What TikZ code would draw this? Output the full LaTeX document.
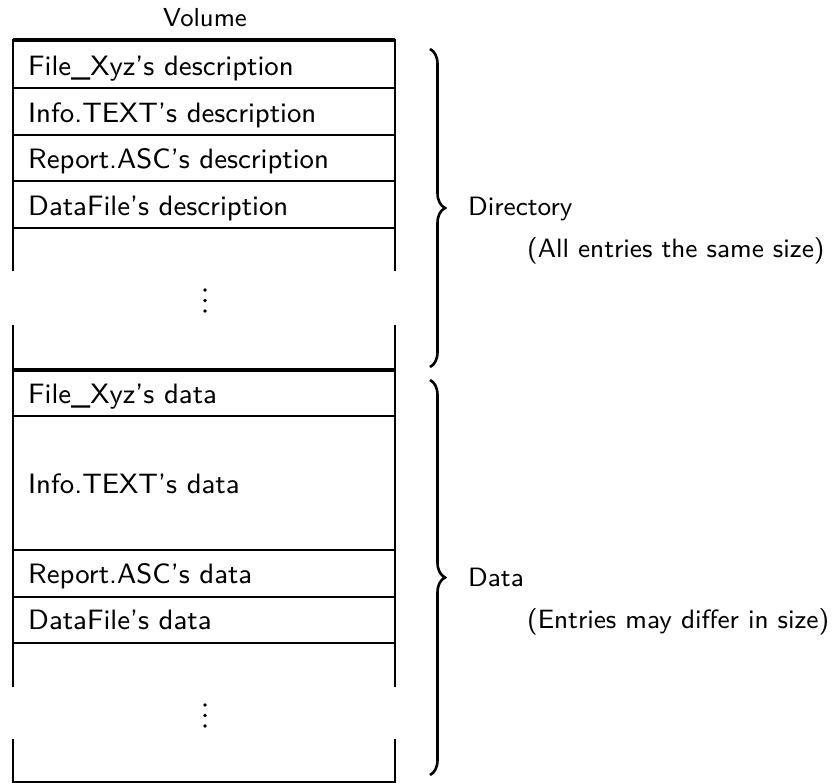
\documentclass[tikz,border=0pt]{standalone}
\usepackage{fontspec}
\setsansfont{lmsans9-regular.otf}
\usetikzlibrary{decorations.pathreplacing}
\begin{document}
\begin{tikzpicture}[x=1pt,y=-1pt,
  rowline/.style={line width=2.8pt},
  heavyline/.style={line width=4pt},
  entry/.style={anchor=base west,inner sep=0pt,font=\sffamily\fontsize{28}{34}\selectfont},
  sidelabel/.style={anchor=base west,inner sep=0pt,font=\sffamily\fontsize{26.5}{32}\selectfont},
  bracket/.style={decorate,decoration={brace,amplitude=15pt},line width=2.6pt},
  vdot/.style={circle,fill,inner sep=0pt,minimum size=3.8pt}]
\useasboundingbox (0,0) rectangle (835,784);

% title
\node[anchor=base,inner sep=0pt,font=\sffamily\fontsize{26}{32}\selectfont] (title) at (205,27) {Volume};

% outer sides of the volume, broken where the elision dots sit
\foreach \x in {13,395} {
  \draw[rowline,line cap=rect] (\x,40) -- (\x,270);
  \draw[rowline] (\x,325) -- (\x,687);
  \draw[rowline,line cap=rect] (\x,740) -- (\x,782);
}

% row separators
\draw[heavyline] (13,40) -- (395,40);
\foreach \y in {88,135,181,228,416,550,597,643,782}
  \draw[rowline] (13,\y) -- (395,\y);
\draw[heavyline] (13,370) -- (395,370);

% directory entries
\node[entry] (d1) at (28,76)  {File\_Xyz's description};
\node[entry] (d2) at (28,122) {Info.TEXT's description};
\node[entry] (d3) at (28,168.5) {Report.ASC's description};
\node[entry] (d4) at (28,215) {DataFile's description};

% data entries
\node[entry] (e1) at (28,403) {File\_Xyz's data};
\node[entry] (e2) at (28,493) {Info.TEXT's data};
\node[entry] (e3) at (28,583) {Report.ASC's data};
\node[entry] (e4) at (28,629) {DataFile's data};

% elision dots
\foreach \y [count=\i] in {290,300.5,311} \node[vdot] (ga\i) at (205,\y) {};
\foreach \y [count=\i] in {705,715.5,726} \node[vdot] (gb\i) at (205,\y) {};

% braces and their labels
\coordinate (b1s) at (430,49);
\coordinate (b1e) at (430,367);
\coordinate (b2s) at (430,380);
\coordinate (b2e) at (430,775);
\draw[bracket] (b1s) -- (b1e);
\draw[bracket] (b2s) -- (b2e);

\node[sidelabel] (dir) at (468,215) {Directory};
\node[sidelabel] (dirnote) at (527,257) {(All entries the same size)};
\node[sidelabel] (dat) at (468,586) {Data};
\node[sidelabel] (datnote) at (527,628) {(Entries may differ in size)};
\end{tikzpicture}
\end{document}
